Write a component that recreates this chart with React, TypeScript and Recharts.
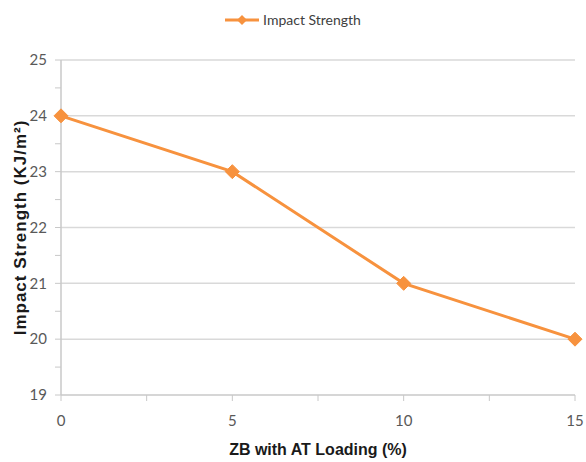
import { LineChart, Line, XAxis, YAxis, Legend, ReferenceLine, Label } from "recharts";

const loading = [0, 5, 10, 15];
const strength = [24, 23, 21, 20];
const xTicks = [0, 2.5, 5, 7.5, 10, 12.5, 15];
const yTicks = [19, 19.5, 20, 20.5, 21, 21.5, 22, 22.5, 23, 23.5, 24, 24.5, 25];
const gridValues = [20, 21, 22, 23, 24, 25];

const data = loading.map((x, i) => ({ x, y: strength[i] }));

const ORANGE = "#F7923E";
const TICK_FONT = "Lato, 'Open Sans', sans-serif";
const LABEL_FONT = "'Liberation Sans', Arial, sans-serif";

const Diamond = (props: any) => {
    const { cx, cy } = props;
    if (cx == null || cy == null) return null;
    const r = 7;
    return (
        <polygon
            points={`${cx},${cy - r} ${cx + r},${cy} ${cx},${cy + r} ${cx - r},${cy}`}
            fill={ORANGE}
            stroke={ORANGE}
        />
    );
};

const renderLegend = () => (
    <div style={{ display: "flex", justifyContent: "center", alignItems: "center" }}>
        <svg width={34} height={14}>
            <line x1={0} y1={7} x2={34} y2={7} stroke={ORANGE} strokeWidth={3} />
            <polygon points="17,2 22,7 17,12 12,7" fill={ORANGE} />
        </svg>
        <span style={{ marginLeft: 4, fontFamily: TICK_FONT, fontSize: 14, color: "#404040" }}>
            Impact Strength
        </span>
    </div>
);

const App = () => {
    return (
        <div style={{ position: "absolute", left: 0, top: 0 }}>
            <LineChart width={586} height={462} data={data} margin={{ top: 60, right: 11, bottom: 0, left: 0 }}>
                {gridValues.map((v) => (
                    <ReferenceLine key={v} y={v} stroke="#d9d9d9" strokeWidth={1.5} />
                ))}
                <XAxis
                    dataKey="x"
                    type="number"
                    domain={[0, 15]}
                    ticks={xTicks}
                    interval={0}
                    height={67}
                    tickFormatter={(v: number) => (v % 5 === 0 ? String(v) : "")}
                    tick={{ fill: "#595959", fontSize: 15, fontFamily: TICK_FONT }}
                    tickMargin={14}
                    axisLine={{ stroke: "#c8c8c8", strokeWidth: 1.5 }}
                    tickLine={{ stroke: "#c8c8c8" }}
                >
                    <Label
                        value="ZB with AT Loading (%)"
                        position="insideBottom"
                        offset={7}
                        style={{ fontFamily: LABEL_FONT, fontWeight: "bold", fontSize: 16, fill: "#1a1a1a" }}
                    />
                </XAxis>
                <YAxis
                    type="number"
                    domain={[19, 25]}
                    ticks={yTicks}
                    interval={0}
                    width={61}
                    tickFormatter={(v: number) => (Number.isInteger(v) ? String(v) : "")}
                    tick={{ fill: "#595959", fontSize: 15, fontFamily: TICK_FONT }}
                    tickMargin={8}
                    axisLine={{ stroke: "#c8c8c8", strokeWidth: 1.5 }}
                    tickLine={{ stroke: "#c8c8c8" }}
                >
                    <Label
                        value="Impact Strength (KJ/m²)"
                        angle={-90}
                        position="insideLeft"
                        offset={20}
                        style={{ textAnchor: "middle", fontFamily: LABEL_FONT, fontWeight: "bold", fontSize: 17, letterSpacing: 1, fill: "#1a1a1a" }}
                    />
                </YAxis>
                <Legend
                    verticalAlign="middle"
                    layout="horizontal"
                    content={renderLegend}
                    wrapperStyle={{ top: 11, left: 0, width: 586 }}
                />
                <Line
                    dataKey="y"
                    name="Impact Strength"
                    stroke={ORANGE}
                    strokeWidth={3}
                    dot={<Diamond />}
                    activeDot={false}
                    isAnimationActive={false}
                />
            </LineChart>
        </div>
    );
};

export default App;
